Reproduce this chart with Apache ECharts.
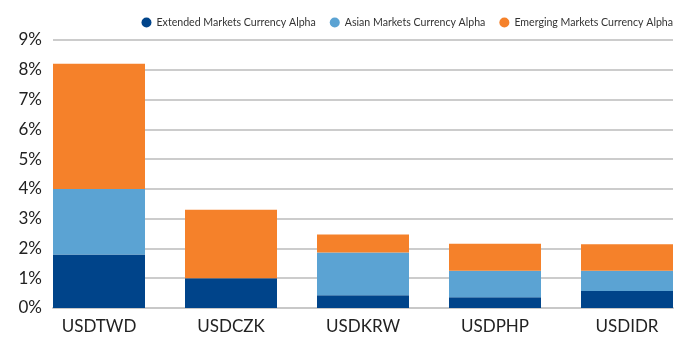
<!DOCTYPE html>
<html><head><meta charset="utf-8">
<script src="https://cdn.jsdelivr.net/npm/echarts@6/dist/echarts.min.js"></script>
<style>html,body{margin:0;padding:0;background:#fff}#c{width:700px;height:350px}</style>
</head><body><div id="c"></div>
<script>
const categories = ['USDTWD','USDCZK','USDKRW','USDPHP','USDIDR'];
const extended = [1.8, 1.0, 0.43, 0.36, 0.57];
const asian = [2.2, 0, 1.43, 0.89, 0.68];
const emerging = [4.2, 2.3, 0.61, 0.91, 0.89];
const seriesNames = ['Extended Markets Currency Alpha','Asian Markets Currency Alpha','Emerging Markets Currency Alpha'];
const colors = ['#00448a','#5ba3d3','#f5812a'];
const yMax = 9;
const chart = echarts.init(document.getElementById('c'));
const font = 'Lato, "Noto Sans", sans-serif';
chart.setOption({
  animation:false,
  color: colors,
  legend:{right:22, top:12, itemWidth:10, itemHeight:10, icon:'circle', itemGap:14,
    textStyle:{fontFamily:font, fontSize:10.6, color:'#333'}},
  grid:[
    {left:53, right:27, top:40, bottom:42},
    {left:33, right:7, top:40, bottom:42}
  ],
  xAxis:[
    {type:'category', gridIndex:0, data:categories,
      axisLine:{lineStyle:{color:'#c8c8c8', width:2}}, axisTick:{show:false},
      axisLabel:{show:false}},
    {type:'category', gridIndex:1, data:categories,
      axisLine:{show:false}, axisTick:{show:false},
      axisLabel:{fontFamily:font, fontSize:17, color:'#222', margin:10}}
  ],
  yAxis:[
    {type:'value', gridIndex:0, min:0, max:yMax, interval:1,
      axisLabel:{formatter:'{value}%', fontFamily:font, fontSize:17, color:'#222', margin:11},
      splitLine:{lineStyle:{color:'#cccccc', width:2}}},
    {type:'value', gridIndex:1, min:0, max:yMax, interval:1, show:false,
      splitLine:{show:false}}
  ],
  series:[
    {name:seriesNames[0], type:'bar', stack:'a', xAxisIndex:1, yAxisIndex:1, data:extended, barWidth:92},
    {name:seriesNames[1], type:'bar', stack:'a', xAxisIndex:1, yAxisIndex:1, data:asian, barWidth:92},
    {name:seriesNames[2], type:'bar', stack:'a', xAxisIndex:1, yAxisIndex:1, data:emerging, barWidth:92}
  ]
});
</script></body></html>
